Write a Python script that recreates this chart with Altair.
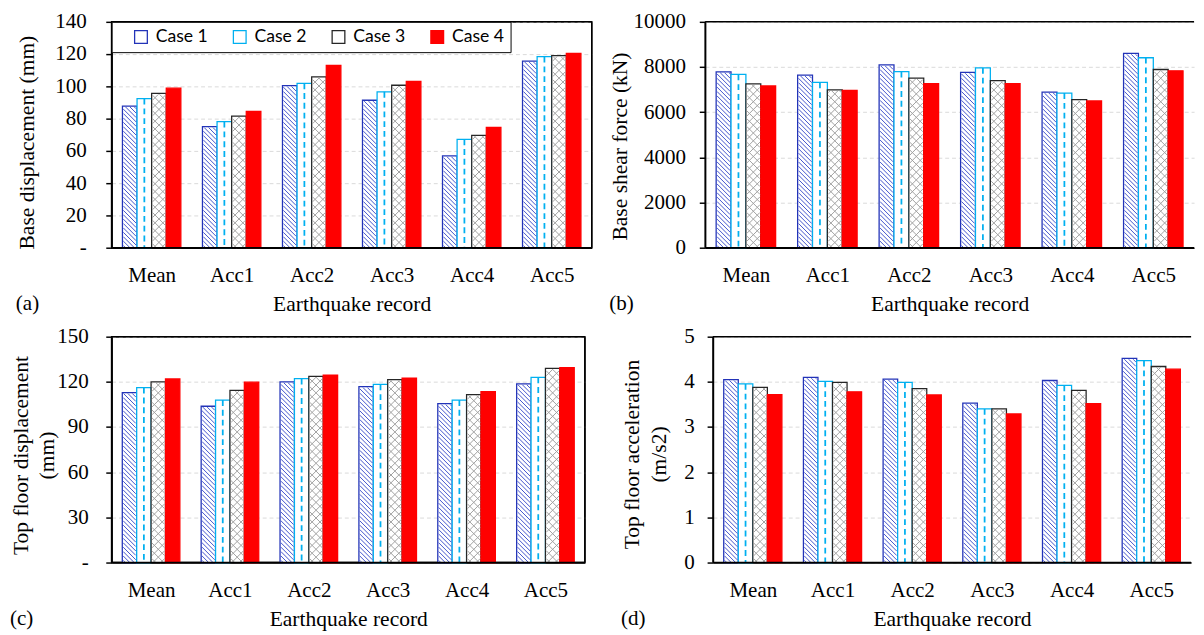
import json
import altair as alt
import pandas as pd

# ---------------- data ----------------
categories = ["Mean", "Acc1", "Acc2", "Acc3", "Acc4", "Acc5"]
cases = ["Case 1", "Case 2", "Case 3", "Case 4"]

base_disp_case1 = [87.8, 75.0, 100.5, 91.4, 56.9, 115.6]
base_disp_case2 = [92.4, 78.1, 101.9, 96.6, 67.2, 118.4]
base_disp_case3 = [95.6, 81.5, 105.9, 100.7, 69.6, 119.0]
base_disp_case4 = [98.9, 84.5, 113.0, 103.1, 74.6, 120.4]

shear_case1 = [7790, 7640, 8090, 7760, 6890, 8600]
shear_case2 = [7670, 7320, 7800, 7960, 6845, 8410]
shear_case3 = [7250, 6990, 7510, 7395, 6556, 7890]
shear_case4 = [7160, 6960, 7265, 7265, 6500, 7830]

top_disp_case1 = [112.9, 103.8, 120.0, 116.8, 105.5, 118.7]
top_disp_case2 = [116.1, 107.9, 122.2, 118.3, 107.9, 123.0]
top_disp_case3 = [120.0, 114.4, 123.7, 121.5, 111.6, 128.9]
top_disp_case4 = [121.9, 119.8, 124.5, 122.4, 113.5, 129.5]

top_acc_case1 = [4.05, 4.10, 4.06, 3.53, 4.03, 4.52]
top_acc_case2 = [3.955, 4.01, 3.99, 3.40, 3.92, 4.47]
top_acc_case3 = [3.88, 3.99, 3.85, 3.40, 3.81, 4.34]
top_acc_case4 = [3.72, 3.78, 3.71, 3.29, 3.52, 4.28]

ticks_a = [0, 20, 40, 60, 80, 100, 120, 140]
ticks_b = [0, 2000, 4000, 6000, 8000, 10000]
ticks_c = [0, 30, 60, 90, 120, 150]
ticks_d = [0, 1, 2, 3, 4, 5]

# ---------------- styling ----------------
SERIF = "Liberation Serif"
SANS = "Lato"
GROUP = 0.73
N = len(categories)
CASE_FILL = ["#ffffff", "#ffffff", "#ffffff", "#ff0000"]
CASE_STROKE = ["#2233b8", "#00b0f0", "#262626", "#ff0000"]
HATCH_BLUE = "#4152cc"
CROSS_GRAY = "#a0a0a0"


def bar_table(series):
    rows = []
    k = len(cases)
    for j, (case, vals) in enumerate(zip(cases, series)):
        for i, (cat, v) in enumerate(zip(categories, vals)):
            x0 = i + 0.5 - GROUP / 2 + j * GROUP / k
            x1 = x0 + GROUP / k
            rows.append({"cat": cat, "case": case, "x": x0, "x2": x1,
                         "xc": (x0 + x1) / 2, "value": v, "zero": 0})
    return pd.DataFrame(rows)


def hatch_table(bars, case, W, H, ymax, step, kinds, inset=0.9):
    """Pattern strokes inside each bar, derived from the bar values."""
    ux = W / N
    uy = H / ymax
    rows = []
    for r in bars[bars["case"] == case].itertuples():
        bw = (r.x2 - r.x) * ux - 2 * inset
        h = r.value * uy - inset

        def add(u0, v0, u1, v1):
            rows.append({"x": r.x + (inset + u0) / ux, "x2": r.x + (inset + u1) / ux,
                         "value": v0 / uy, "y2": v1 / uy})
        if "down" in kinds:
            c = step / 2
            while c < bw + h:
                ua, ub = max(0.0, c - h), min(bw, c)
                if ub > ua:
                    add(ua, c - ua, ub, c - ub)
                c += step
        if "up" in kinds:
            c = -bw + step / 2
            while c < h:
                ua, ub = max(0.0, -c), min(bw, h - c)
                if ub > ua:
                    add(ua, ua + c, ub, ub + c)
                c += step
    return pd.DataFrame(rows)


def panel(series, ymax, yticks, ytitle, W, H, tag, title_x, title_y, title_base,
          ylab_pad, dash_zero, boxed, show_legend, yformat=None):
    bars = bar_table(series)
    xs = alt.Scale(domain=[0, N], nice=False, zero=False)
    ys = alt.Scale(domain=[0, ymax], nice=False)
    x_axis = alt.Axis(
        values=[i + 0.5 for i in range(N)],
        labelExpr=f"{json.dumps(categories)}[round(datum.value - 0.5)]",
        ticks=False, grid=False, labelAngle=0, labelPadding=18,
        title="Earthquake record", titlePadding=8,
    )
    y_kwargs = dict(
        values=yticks, grid=True, gridColor="#d9d9d9", gridDash=[4, 3], gridWidth=1,
        ticks=True, tickSize=6, labelPadding=ylab_pad,
        title=ytitle, titleX=title_x, titleY=title_y, titleAngle=270,
        titleAlign="center", titleBaseline=title_base, titleLineHeight=27,
    )
    if dash_zero:
        y_kwargs["labelExpr"] = "datum.value == 0 ? '-' : datum.label"
    if yformat:
        y_kwargs["format"] = yformat
    y_axis = alt.Axis(**y_kwargs)

    if show_legend:
        leg = alt.Legend(
            title=" ", titleOrient="left", titleFontSize=1, titlePadding=15,
            orient="none", legendX=0, legendY=0, direction="horizontal", columns=4,
            symbolType="square", symbolSize=169, symbolStrokeWidth=1.3,
            labelFont=SANS, labelFontSize=18, labelColor="black", labelOffset=6,
            columnPadding=22, padding=6, strokeColor="black", fillColor="white",
        )
    else:
        leg = None

    def X(field):
        return alt.X(field, type="quantitative", scale=xs, axis=x_axis)

    def Y(field):
        return alt.Y(field, type="quantitative", scale=ys, axis=y_axis)

    rects = alt.Chart(bars).mark_rect(strokeWidth=1.3).encode(
        x=X("x"), x2="x2", y=Y("value"), y2="zero",
        fill=alt.Fill("case:N", scale=alt.Scale(domain=cases, range=CASE_FILL), legend=leg),
        stroke=alt.Stroke("case:N", scale=alt.Scale(domain=cases, range=CASE_STROKE), legend=leg),
    )
    hatch1 = alt.Chart(hatch_table(bars, cases[0], W, H, ymax, 4.5, ["down"])).mark_rule(
        color=HATCH_BLUE, strokeWidth=1).encode(x=X("x"), x2="x2", y=Y("value"), y2="y2")
    hatch3 = alt.Chart(hatch_table(bars, cases[2], W, H, ymax, 8, ["down", "up"])).mark_rule(
        color=CROSS_GRAY, strokeWidth=1).encode(x=X("x"), x2="x2", y=Y("value"), y2="y2")
    dash = alt.Chart(bars[bars["case"] == cases[1]]).mark_rule(
        color="#00b0f0", strokeWidth=1.8, strokeDash=[6, 4]).encode(
        x=X("xc"), y=Y("value"), y2="zero")
    # plot frame: bottom/top lines at the y-domain ends, left (and right when boxed) at x-domain ends
    frame_y = alt.Chart(pd.DataFrame({"value": [0, ymax]})).mark_rule(
        color="black", strokeWidth=1.5).encode(y=Y("value"))
    frame_x = alt.Chart(pd.DataFrame({"x": [0, N] if boxed else [0]})).mark_rule(
        color="black", strokeWidth=1.5).encode(x=X("x"))
    layers = [rects, hatch1, hatch3, dash, frame_y, frame_x]
    view = alt.ViewBackground(stroke="black", strokeWidth=1.5) if boxed else \
        alt.ViewBackground(stroke="transparent")
    return alt.layer(*layers).properties(
        width=W, height=H, view=view,
        title=alt.TitleParams(tag, orient="bottom", anchor="start", frame="bounds",
                              offset=-22, font=SERIF, fontSize=21.5,
                              fontWeight="normal", color="black"),
    )


pa = panel([base_disp_case1, base_disp_case2, base_disp_case3, base_disp_case4],
           140, ticks_a, "Base displacement (mm)", 491, 231, "(a)", -87, 123, "middle", 20,
           True, True, True)
pb = panel([shear_case1, shear_case2, shear_case3, shear_case4],
           10000, ticks_b, "Base shear force (kN)", 500, 231, "(b)", -87, 127, "middle", 14,
           False, False, False, yformat="d")
pc = panel([top_disp_case1, top_disp_case2, top_disp_case3, top_disp_case4],
           150, ticks_c, ["Top floor displacement", "(mm)"], 484, 231, "(c)", -103, 121, "top", 18,
           True, True, False)
pd_ = panel([top_acc_case1, top_acc_case2, top_acc_case3, top_acc_case4],
            5, ticks_d, ["Top floor acceleration", "(m/s2)"], 489, 231, "(d)", -93, 120, "top", 13,
            False, False, False)

row1 = alt.hconcat(pa, pb, spacing=15).resolve_scale(
    fill="independent", stroke="independent")
row2 = alt.hconcat(pc, pd_, spacing=34).resolve_scale(
    fill="independent", stroke="independent")

chart = alt.vconcat(row1, row2, spacing=9).resolve_scale(
    fill="independent", stroke="independent"
).properties(
    padding={"left": 1, "top": -5, "right": 0, "bottom": 0}
).configure(
    font=SERIF
).configure_view(
    stroke="transparent"
).configure_axis(
    labelFont=SERIF, labelFontSize=21.5, labelColor="black",
    titleFont=SERIF, titleFontSize=22, titleFontWeight="normal", titleColor="black",
    domainColor="black", domainWidth=1.5, tickColor="black", tickWidth=1.5,
)

chart.save("out.html", embed_options={"renderer": "svg", "actions": False})
